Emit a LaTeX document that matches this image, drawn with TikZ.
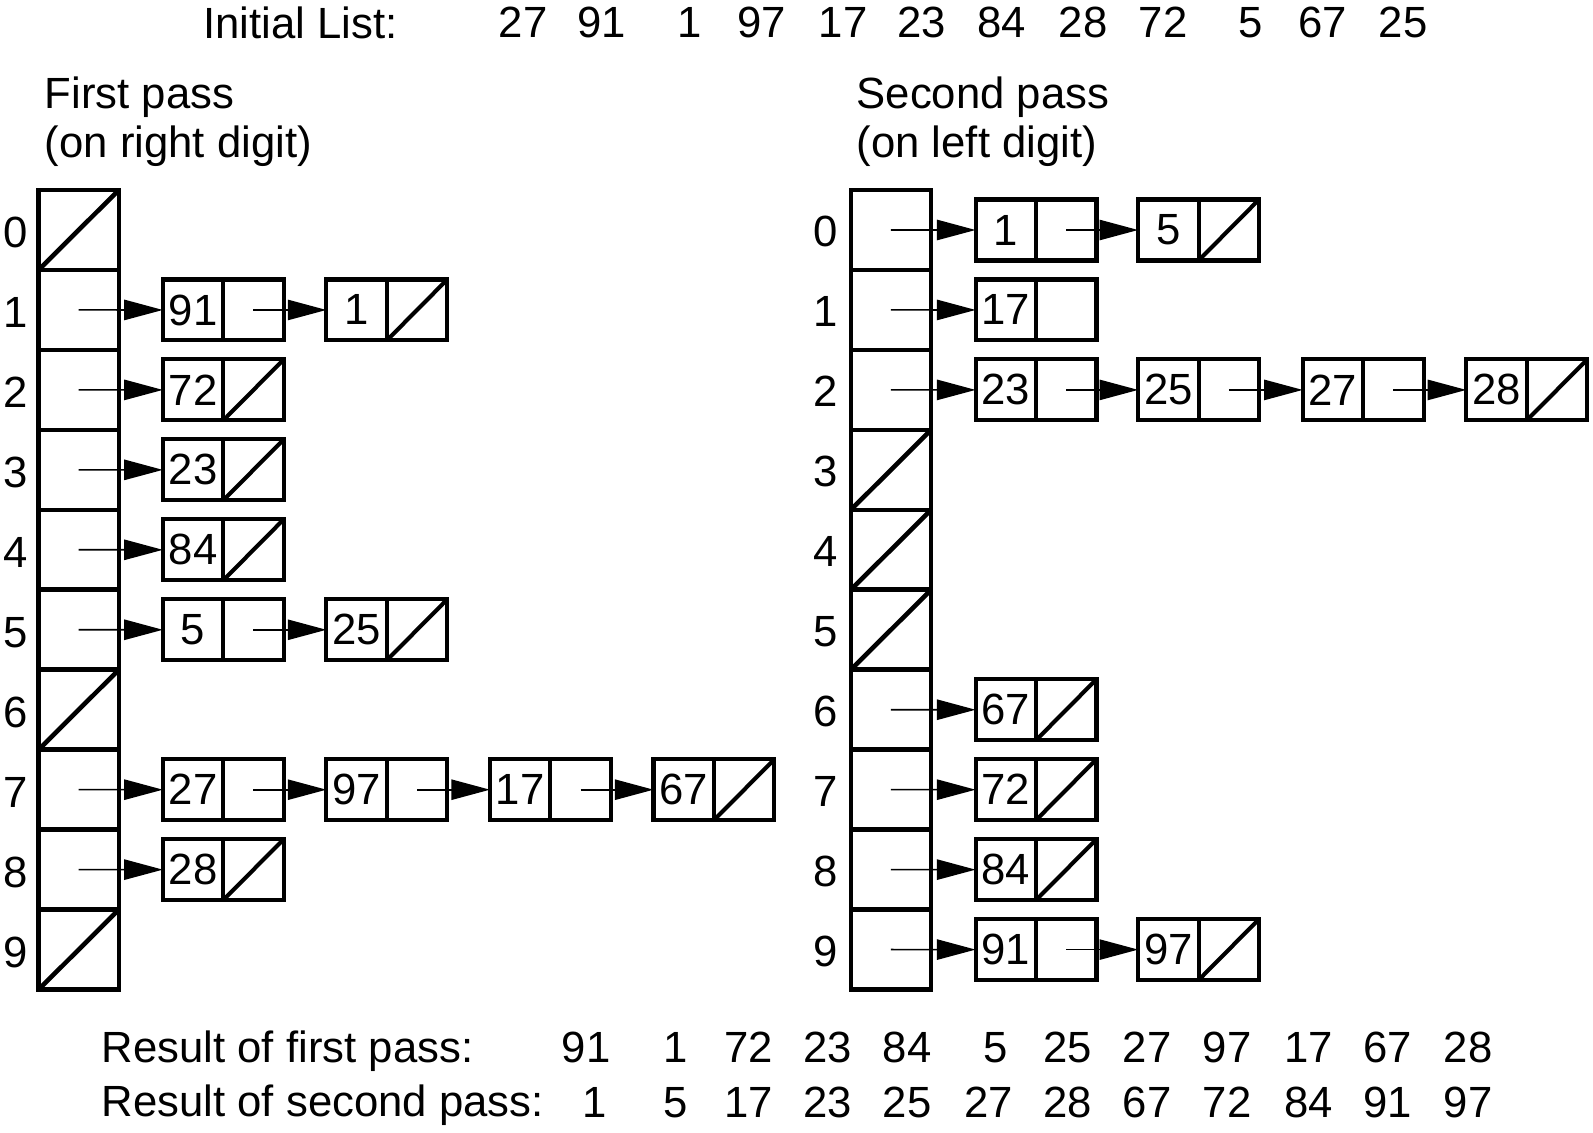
\documentclass[tikz,border=0pt]{standalone}
\usepackage{fontspec}
\setmainfont{Liberation Sans}
\usetikzlibrary{arrows.meta, positioning}

\tikzset{
  cell/.style={draw, line width=4.5pt, minimum width=79pt, minimum height=78.7pt, inner sep=0pt, outer sep=0pt},
  val/.style={draw, line width=4pt, minimum width=59.5pt, minimum height=60pt, inner sep=0pt, outer sep=0pt},
  ptr/.style={val},
  nilptr/.style={val, path picture={\draw[line width=4pt] (path picture bounding box.south west) -- (path picture bounding box.north east);}},
  nilline/.style={line width=4.5pt},
  link/.style={line width=1.6pt, -{Triangle[length=38pt, width=20pt]}},
  txt/.style={inner sep=0pt},
}

\begin{document}
\begin{tikzpicture}[x=1pt, y=-1pt, every node/.style={font=\fontsize{43}{50}\selectfont}]
        \useasboundingbox (0,0) rectangle (1568,1115);

        % Headings
        \node[txt, anchor=west] (init) at (200,23) {Initial List:};
        \foreach \x/\v in {515/27, 592/91, 679/1, 750/97, 830/17, 907/23, 986/84, 1066/28, 1145/72, 1231/5, 1302/67, 1381/25}
            \node[txt] (in\v) at (\x,22) {\v};
        \node[txt, anchor=west] (fp1) at (44,96) {First pass};
        \node[txt, anchor=west] (fp2) at (44,144) {(on right digit)};
        \node[txt, anchor=west] (sp1) at (843,96) {Second pass};
        \node[txt, anchor=west] (sp2) at (843,144) {(on left digit)};

        % Bucket columns
        \foreach \i in {0,...,9} {
            \node[cell] (L\i) at (77.5,{226.35+78.7*\i}) {};
            \node[txt] (Lk\i) at (15,{229+78.7*\i}) {\i};
            \node[cell] (R\i) at (877,{226.35+78.7*\i}) {};
            \node[txt] (Rk\i) at (813,{228+78.7*\i}) {\i};
        }
        \foreach \i in {0,6,9}
            \draw[nilline] (L\i.south west) -- (L\i.north east);
        \foreach \i in {3,4,5}
            \draw[nilline] (R\i.south west) -- (R\i.north east);

        % First pass lists
        \node[val] (f1a) at (190,305.1) {91}; \node[ptr, right=0pt of f1a] (f1ap) {};
        \node[val] (f1b) at (351,305.1) {1}; \node[nilptr, right=0pt of f1b] (f1bp) {};
        \node[val] (f2a) at (190,383.8) {72}; \node[nilptr, right=0pt of f2a] (f2ap) {};
        \node[val] (f3a) at (190,462.5) {23}; \node[nilptr, right=0pt of f3a] (f3ap) {};
        \node[val] (f4a) at (190,541.2) {84}; \node[nilptr, right=0pt of f4a] (f4ap) {};
        \node[val] (f5a) at (190,619.9) {5}; \node[ptr, right=0pt of f5a] (f5ap) {};
        \node[val] (f5b) at (351,619.9) {25}; \node[nilptr, right=0pt of f5b] (f5bp) {};
        \node[val] (f7a) at (190,777.3) {27}; \node[ptr, right=0pt of f7a] (f7ap) {};
        \node[val] (f7b) at (351,777.3) {97}; \node[ptr, right=0pt of f7b] (f7bp) {};
        \node[val] (f7c) at (512,777.3) {17}; \node[ptr, right=0pt of f7c] (f7cp) {};
        \node[val] (f7d) at (673,777.3) {67}; \node[nilptr, right=0pt of f7d] (f7dp) {};
        \node[val] (f8a) at (190,856.0) {28}; \node[nilptr, right=0pt of f8a] (f8ap) {};

        \draw[link] (L1.center) -- (f1a.west);
        \draw[link] (f1ap.center) -- (f1b.west);
        \draw[link] (L2.center) -- (f2a.west);
        \draw[link] (L3.center) -- (f3a.west);
        \draw[link] (L4.center) -- (f4a.west);
        \draw[link] (L5.center) -- (f5a.west);
        \draw[link] (f5ap.center) -- (f5b.west);
        \draw[link] (L7.center) -- (f7a.west);
        \draw[link] (f7ap.center) -- (f7b.west);
        \draw[link] (f7bp.center) -- (f7c.west);
        \draw[link] (f7cp.center) -- (f7d.west);
        \draw[link] (L8.center) -- (f8a.west);

        % Second pass lists
        \node[val] (s0a) at (990,226.4) {1}; \node[ptr, right=0pt of s0a] (s0ap) {};
        \node[val] (s0b) at (1150,226.4) {5}; \node[nilptr, right=0pt of s0b] (s0bp) {};
        \node[val] (s1a) at (990,305.1) {17}; \node[ptr, right=0pt of s1a] (s1ap) {};
        \node[val] (s2a) at (990,383.8) {23}; \node[ptr, right=0pt of s2a] (s2ap) {};
        \node[val] (s2b) at (1150,383.8) {25}; \node[ptr, right=0pt of s2b] (s2bp) {};
        \node[val] (s2c) at (1312,383.8) {27}; \node[ptr, right=0pt of s2c] (s2cp) {};
        \node[val] (s2d) at (1473,383.8) {28}; \node[nilptr, right=0pt of s2d] (s2dp) {};
        \node[val] (s6a) at (990,698.6) {67}; \node[nilptr, right=0pt of s6a] (s6ap) {};
        \node[val] (s7a) at (990,777.3) {72}; \node[nilptr, right=0pt of s7a] (s7ap) {};
        \node[val] (s8a) at (990,856.0) {84}; \node[nilptr, right=0pt of s8a] (s8ap) {};
        \node[val] (s9a) at (990,934.7) {91}; \node[ptr, right=0pt of s9a] (s9ap) {};
        \node[val] (s9b) at (1150,934.7) {97}; \node[nilptr, right=0pt of s9b] (s9bp) {};

        \draw[link] (R0.center) -- (s0a.west);
        \draw[link] (s0ap.center) -- (s0b.west);
        \draw[link] (R1.center) -- (s1a.west);
        \draw[link] (R2.center) -- (s2a.west);
        \draw[link] (s2ap.center) -- (s2b.west);
        \draw[link] (s2bp.center) -- (s2c.west);
        \draw[link] (s2cp.center) -- (s2d.west);
        \draw[link] (R6.center) -- (s6a.west);
        \draw[link] (R7.center) -- (s7a.west);
        \draw[link] (R8.center) -- (s8a.west);
        \draw[link] (R9.center) -- (s9a.west);
        \draw[link] (s9ap.center) -- (s9b.west);

        % Results
        \node[txt, anchor=west] (res1) at (100,1035) {Result of first pass:};
        \foreach \x/\v in {577/91, 665/1, 737/72, 815/23, 893/84, 980/5, 1051/25, 1129/27, 1208/97, 1288/17, 1366/67, 1445/28}
            \node[txt] (ra\v) at (\x,1031) {\v};
        \node[txt, anchor=west] (res2) at (100,1088) {Result of second pass:};
        \foreach \x/\v in {585/1, 665/5, 737/17, 815/23, 893/25, 973/27, 1051/28, 1129/67, 1208/72, 1288/84, 1366/91, 1445/97}
            \node[txt] (rb\v) at (\x,1085) {\v};
    \end{tikzpicture}
\end{document}
